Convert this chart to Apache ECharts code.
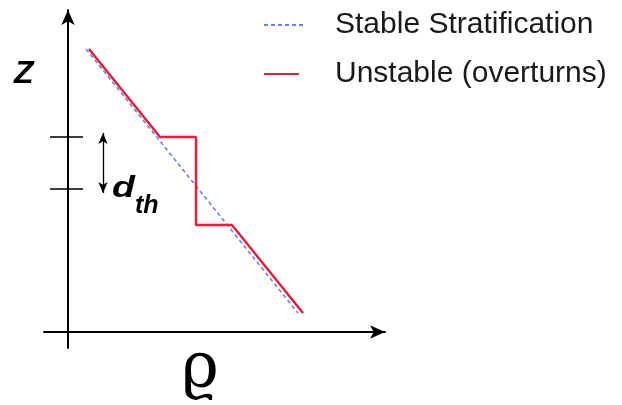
<!DOCTYPE html>
<html>
<head>
<meta charset="utf-8">
<script src="https://cdn.jsdelivr.net/npm/echarts@6/dist/echarts.min.js"></script>
<style>
  html, body { margin: 0; padding: 0; background: #fff; }
  #chart { width: 622px; height: 405px; }
</style>
</head>
<body>
<div id="chart"></div>
<script>
// profile values (rho to the right, z upward)
const stableRho = [1.8, 23.0];
const stableZ = [28.3, 1.9];
const unstableRho = [2.1, 9.2, 12.8, 12.8, 16.4, 23.5];
const unstableZ = [28.3, 19.5, 19.5, 10.7, 10.7, 1.9];
// marks on the z axis and the overturn thickness arrow
const tickZ = [19.5, 14.3];
const tickSpan = [-1.8, 1.5];
const dthRho = 3.5;
const dthZ = [19.9, 13.9];

const zip = (xs, ys) => xs.map((x, i) => [x, ys[i]]);

const tickData = [];
tickZ.forEach(function (z, i) {
    if (i > 0) tickData.push('-');
    tickData.push([tickSpan[0], z], [tickSpan[1], z]);
});

const chart = echarts.init(document.getElementById('chart'), null, { renderer: 'canvas' });

const axisLine = {
    onZero: true,
    symbol: ['none', 'arrow'],
    symbolSize: [10, 15],
    lineStyle: { color: '#000', width: 2 }
};

const legendText = { fontFamily: 'Liberation Sans', fontSize: 30, color: '#1a1a1a', lineHeight: 32 };

chart.setOption({
    animation: false,
    backgroundColor: '#fff',
    grid: { left: 44, right: 237, top: 10, bottom: 57 },
    xAxis: {
        type: 'value', min: -2.4, max: 31.7,
        axisLine: axisLine,
        axisTick: { show: false }, axisLabel: { show: false }, splitLine: { show: false }
    },
    yAxis: {
        type: 'value', min: -1.6, max: 32.2,
        axisLine: axisLine,
        axisTick: { show: false }, axisLabel: { show: false }, splitLine: { show: false }
    },
    legend: [{
        data: ['Stable Stratification'],
        left: 263, top: 9, padding: 0,
        itemWidth: 40, itemHeight: 14,
        itemStyle: { opacity: 0 },
        textStyle: Object.assign({ padding: [0, 0, 0, 26] }, legendText)
    }, {
        data: ['Unstable (overturns)'],
        left: 263, top: 58, padding: 0,
        itemWidth: 35, itemHeight: 14,
        itemStyle: { opacity: 0 },
        textStyle: Object.assign({ padding: [0, 0, 0, 31] }, legendText)
    }],
    series: [{
        name: 'Stable Stratification',
        type: 'line',
        data: zip(stableRho, stableZ),
        symbol: 'none',
        lineStyle: { color: '#6f7ee0', width: 1.6, type: [4, 3] },
        itemStyle: { color: '#6f7ee0' }
    }, {
        name: 'Unstable (overturns)',
        type: 'line',
        data: zip(unstableRho, unstableZ),
        symbol: 'none',
        lineStyle: { color: '#e2213a', width: 2.5 },
        itemStyle: { color: '#e2213a' }
    }, {
        name: 'ticks',
        type: 'line',
        data: tickData,
        symbol: 'none',
        silent: true,
        lineStyle: { color: '#000', width: 1.5 },
        markLine: {
            silent: true,
            symbol: ['arrow', 'arrow'],
            symbolSize: [7, 11],
            label: { show: false },
            lineStyle: { color: '#000', width: 1.3, type: 'solid' },
            data: [[{ coord: [dthRho, dthZ[0]] }, { coord: [dthRho, dthZ[1]] }]]
        }
    }],
    graphic: [{
        type: 'text', x: 14, y: 58,
        style: { text: 'Z', font: 'italic bold 32px "Liberation Sans"', fill: '#000' }
    }, {
        type: 'text', x: 112, y: 174, scaleX: 1.25,
        style: { text: 'd', font: 'italic bold 30px "Liberation Sans"', fill: '#000' }
    }, {
        type: 'text', x: 135, y: 194,
        style: { text: 'th', font: 'italic bold 25px "Liberation Sans"', fill: '#000' }
    }, {
        type: 'text', x: 200, y: 338,
        style: { text: 'ϱ', font: '64px "DejaVu Serif"', fill: '#000', align: 'center' }
    }]
});
</script>
</body>
</html>
